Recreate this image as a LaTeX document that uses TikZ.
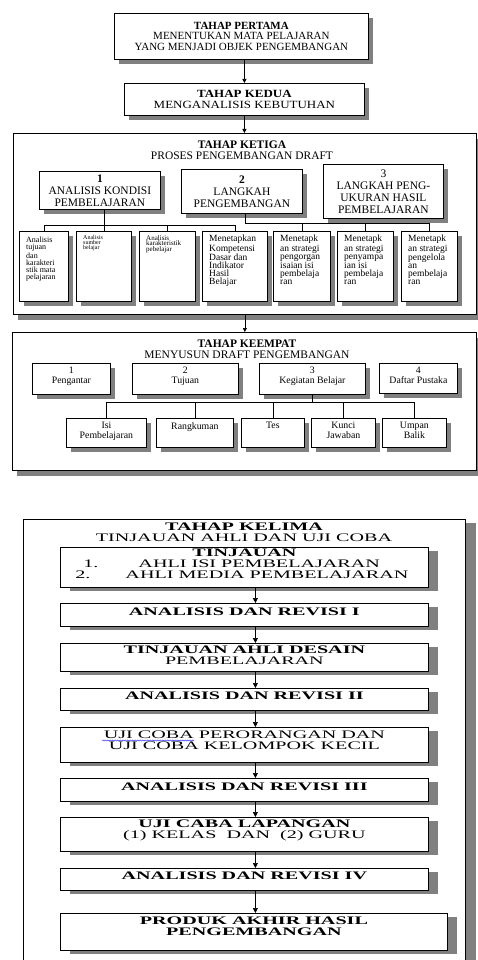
\documentclass[tikz,border=0pt]{standalone}
\usepackage{fontspec}
\setmainfont{Liberation Serif}
\newfontfamily\lebar[FakeStretch = 1.75]{Liberation Serif}
\newfontfamily\agak[FakeStretch = 1.18]{Liberation Serif}
\usepackage{tikz}
\usetikzlibrary{shadows}
\usetikzlibrary{arrows.meta}
\usetikzlibrary{decorations.pathmorphing}
\newcommand{\hurufa}{\fontsize{11pt}{10.5pt}\selectfont}
\newcommand{\hurufkedua}{\agak\fontsize{11pt}{11pt}\selectfont}
\newcommand{\hurufjudul}{\fontsize{11.5pt}{11pt}\selectfont}
\newcommand{\hurufb}{\fontsize{11.5pt}{12pt}\selectfont}
\newcommand{\hurufc}{\fontsize{9.8pt}{10pt}\selectfont}
\newcommand{\hurufd}{\fontsize{9.5pt}{8pt}\selectfont}
\newcommand{\huruflebar}{\lebar\fontsize{11.5pt}{11pt}\selectfont}
\newcommand{\judullebar}{\lebar\fontsize{11.5pt}{11pt}\selectfont}

\begin{document}
\begin{tikzpicture}[
  x = 1pt, y = -1pt,
  kotak/.style = {draw, fill = white, anchor = north west, inner sep = 0pt, line width = .8pt},
  bayang/.style 2 args = {drop shadow = {shadow xshift = #1, shadow yshift = #2, fill = black!50, opacity = 1}},
  atas/.style = {kotak, bayang = {5pt}{-5pt}},
  bawah/.style = {kotak, bayang = {10pt}{-4pt}},
  bingkai/.style = {kotak, line width = .7pt},
  kiri/.style = {anchor = north west, align = left, inner xsep = 7pt, inner ysep = 4pt},
  tengah/.style = {anchor = north, align = center, inner xsep = 0pt, inner ysep = #1},
  tengah/.default = 4pt,
  garis/.style = {line width = .7pt},
  panah/.style = {garis, -{Triangle[length = 4pt, width = 4pt]}},
  panahbawah/.style = {garis, -{Triangle[length = 5pt, width = 5pt]}},
  ejaan/.style = {draw = blue!80, line width = .5pt, decorate,
      decoration = {snake, amplitude = .6pt, segment length = 2.5pt}}
]
  \path[use as bounding box, fill = white] (0,0) rectangle (478,960);

  % bingkai tahap 3, 4, 5
  \node[bingkai, bayang = {5pt}{-6pt}, minimum width = 463pt, minimum height = 181pt] (ketiga) at (13,133) {};
  \node[bingkai, bayang = {5pt}{-6pt}, minimum width = 464pt, minimum height = 138pt] (keempat) at (12,332) {};
  \node[bingkai, bayang = {11pt}{-4pt}, minimum width = 442pt, minimum height = 460pt] (kelima) at (23,519) {};
  \node[tengah = 0pt, font = \hurufjudul] (ketigaJ) at (242,141) {\textbf{TAHAP KETIGA}\\PROSES PENGEMBANGAN DRAFT};
  \node[tengah = 0pt, font = \hurufjudul] (keempatJ) at (247,340) {\textbf{TAHAP KEEMPAT}\\MENYUSUN DRAFT PENGEMBANGAN};
  \node[tengah = 0pt, font = \judullebar] (kelimaJ) at (244,523) {\textbf{TAHAP KELIMA}\\TINJAUAN AHLI DAN UJI COBA};

  % tahap 1 dan 2
  \node[atas, minimum width = 254pt, minimum height = 46pt, align = center, font = \hurufa]
    (pertama) at (114,13) {\textbf{TAHAP PERTAMA}\\MENENTUKAN MATA PELAJARAN\\YANG MENJADI OBJEK PENGEMBANGAN};
  \node[atas, minimum width = 240pt, minimum height = 32pt, align = center, font = \hurufkedua]
    (kedua) at (124,83) {\textbf{TAHAP KEDUA}\\MENGANALISIS KEBUTUHAN};

  % tahap 3
  \node[atas, minimum width = 121pt, minimum height = 38pt, align = center, font = \hurufb]
    (langkah1) at (39,171) {\textbf{1}\\ANALISIS KONDISI\\PEMBELAJARAN};
  \node[atas, minimum width = 121pt, minimum height = 44pt, align = center, font = \hurufb]
    (langkah2) at (181,169) {\textbf{2}\\LANGKAH\\PENGEMBANGAN};
  \node[atas, minimum width = 49pt, minimum height = 70pt,
    label = {[kiri, inner ysep = 6pt, font = \fontsize{8pt}{7pt}\selectfont]north west:{Analisis\\tujuan\\dan\\karakteri\\stik mata\\pelajaran}}]
    (anak1) at (19,231) {};
  \node[atas, minimum width = 55pt, minimum height = 70pt,
    label = {[kiri, font = \fontsize{6pt}{5pt}\selectfont]north west:{Analisis\\sumber\\belajar}}]
    (anak2) at (76,231) {};
  \node[atas, minimum width = 56pt, minimum height = 70pt,
    label = {[kiri, font = \fontsize{7pt}{5.7pt}\selectfont]north west:{Analisis\\karakteristik\\pebelajar}}]
    (anak3) at (139,231) {};
  \node[atas, minimum width = 65pt, minimum height = 70pt,
    label = {[kiri, font = \hurufd]north west:{Menetapkan\\Kompetensi\\Dasar dan\\Indikator\\Hasil\\Belajar}}]
    (anak4) at (202,231) {};
  \node[atas, minimum width = 57pt, minimum height = 70pt,
    label = {[kiri, font = \hurufd]north west:{Menetapk\\an strategi\\pengorgan\\isaian isi\\pembelaja\\ran}}]
    (anak5) at (273,231) {};
  \node[atas, minimum width = 56pt, minimum height = 70pt,
    label = {[kiri, font = \hurufd]north west:{Menetapk\\an strategi\\penyampa\\ian isi\\pembelaja\\ran}}]
    (anak6) at (337,231) {};
  \node[atas, minimum width = 56pt, minimum height = 70pt,
    label = {[kiri, font = \hurufd]north west:{Menetapk\\an strategi\\pengelola\\an\\pembelaja\\ran}}]
    (anak7) at (401,231) {};

  % tahap 4
  \node[atas, minimum width = 78pt, minimum height = 31pt, label = {[tengah, font = \hurufc]north:{1\\Pengantar}}] (bagian1) at (32,363) {};
  \node[atas, minimum width = 106pt, minimum height = 31pt, label = {[tengah, font = \hurufc]north:{2\\Tujuan}}] (bagian2) at (132,363) {};
  \node[atas, minimum width = 106pt, minimum height = 31pt, label = {[tengah, font = \hurufc]north:{3\\Kegiatan Belajar}}] (bagian3) at (259,363) {};
  \node[atas, minimum width = 78pt, minimum height = 30pt, label = {[tengah, font = \hurufc]north:{4\\Daftar Pustaka}}] (bagian4) at (379,363) {};
  \node[atas, minimum width = 80pt, minimum height = 29pt, label = {[tengah, font = \hurufc]north:{Isi\\Pembelajaran}}] (isi1) at (66,418) {};
  \node[atas, minimum width = 77pt, minimum height = 29pt, label = {[tengah, font = \hurufc]north:{Rangkuman}}] (isi2) at (156,418) {};
  \node[atas, minimum width = 63pt, minimum height = 29pt, label = {[tengah, font = \hurufc]north:{Tes}}] (isi3) at (241,418) {};
  \node[atas, minimum width = 64pt, minimum height = 29pt, label = {[tengah, font = \hurufc]north:{Kunci\\Jawaban}}] (isi4) at (311,418) {};
  \node[atas, minimum width = 64pt, minimum height = 29pt, label = {[tengah, font = \hurufc]north:{Umpan\\Balik}}] (isi5) at (382,418) {};

  % tahap 5
  \node[bawah, minimum width = 368pt, minimum height = 40pt, label = {[tengah = 2pt, font = \huruflebar]north:{\textbf{TINJAUAN}\\
    \makebox[322pt][l]{1.\hspace{40pt}AHLI ISI PEMBELAJARAN}\\\makebox[338pt][l]{2.\hspace{35pt}AHLI MEDIA PEMBELAJARAN}}}] (lima1) at (60,547) {};
  \node[bawah, minimum width = 368pt, minimum height = 23pt, label = {[tengah = 4.5pt, font = \huruflebar]north:{\textbf{ANALISIS DAN REVISI I}}}] (lima2) at (60,603) {};
  \node[bawah, minimum width = 368pt, minimum height = 28pt, label = {[tengah = 3pt, font = \huruflebar]north:{\textbf{TINJAUAN AHLI DESAIN}\\PEMBELAJARAN}}] (lima3) at (60,643) {};
  \node[bawah, minimum width = 368pt, minimum height = 22pt, label = {[tengah = 3.5pt, font = \huruflebar]north:{\textbf{ANALISIS DAN REVISI II}}}] (lima4) at (60,688) {};
  \node[bawah, minimum width = 368pt, minimum height = 35pt, label = {[tengah = 3.5pt, font = \huruflebar]north:{UJI COBA PERORANGAN DAN\\UJI COBA KELOMPOK KECIL}}] (lima5) at (60,727) {};
  \node[bawah, minimum width = 368pt, minimum height = 23pt, label = {[tengah = 4.5pt, font = \huruflebar]north:{\textbf{ANALISIS DAN REVISI III}}}] (lima6) at (60,778) {};
  \node[bawah, minimum width = 368pt, minimum height = 34pt, label = {[tengah = 3pt, font = \huruflebar]north:{\textbf{UJI CABA LAPANGAN}\\(1) KELAS\ \ DAN\ \ (2) GURU}}] (lima7) at (60,817) {};
  \node[bawah, minimum width = 368pt, minimum height = 22pt, label = {[tengah = 3.5pt, font = \huruflebar]north:{\textbf{ANALISIS DAN REVISI IV}}}] (lima8) at (60,868) {};
  \node[bawah, minimum width = 387pt, minimum height = 37pt, label = {[tengah = 3.5pt, font = \huruflebar]north:{\textbf{PRODUK AKHIR HASIL}\\\textbf{PENGEMBANGAN}}}] (lima9) at (60,913) {};
  \draw[ejaan] ([shift = {(42pt,-13.5pt)}]lima5.north west) -- ++(92,0);

  % penghubung
  \draw[panah] (pertama.south -| kedua.north) -- (kedua.north);
  \draw[panah] (kedua.south) -- (kedua.south |- ketiga.north);
  \draw[panah] (ketiga.south) -- (ketiga.south |- keempat.north);
  \draw[garis] (anak2.north |- langkah1.south) -- (anak2.north);
  \draw[garis] (anak1.north) -- ++(0,-6) -| (anak4.north);
  \draw[garis] (anak3.north) -- ++(0,-6);
  \draw[garis] ([xshift = 3pt]langkah2.south) -- ++(0,10) -| (anak7.north);
  \foreach \n in {5, 6}
  \draw[garis] (anak\n.north) -- ++(0,-8);
  \draw[garis] (bagian3.south) -- ++(0,8);
  \draw[garis] (isi1.north) -- ++(0,-16) -| (isi5.north);
  \foreach \n in {2, 3, 4}
  \draw[garis] (isi\n.north) -- ++(0,-16);
  \foreach \a/\b in {lima1/lima2, lima2/lima3, lima3/lima4, lima4/lima5, lima5/lima6, lima6/lima7, lima7/lima8, lima8/lima9}
  \draw[panahbawah] ([xshift = 11pt]\a.south) -- ([xshift = 11pt]\a.south |- \b.north);

  \node[atas, minimum width = 120pt, minimum height = 54pt, align = center, font = \hurufb]
    (langkah3) at (323,164) {3\\LANGKAH PENG-\\UKURAN HASIL\\PEMBELAJARAN};
\end{tikzpicture}
\end{document}
